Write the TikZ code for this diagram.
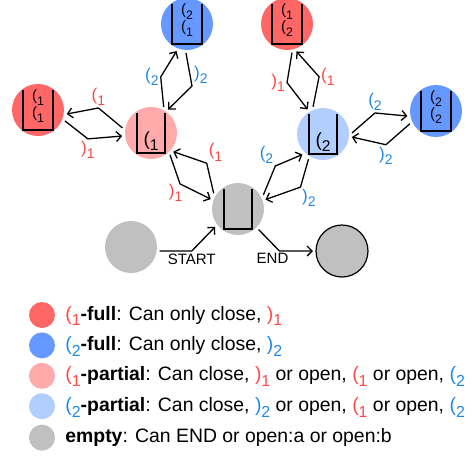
\documentclass[tikz,border=0pt]{standalone}
\usepackage{fontspec}
\setmainfont{Liberation Sans}
\usetikzlibrary{arrows.meta, positioning}
\definecolor{fullred}{RGB}{255,102,102}
\definecolor{fullblue}{RGB}{102,153,255}
\definecolor{partred}{RGB}{255,170,170}
\definecolor{partblue}{RGB}{178,206,255}
\definecolor{emptygray}{RGB}{192,192,192}
\definecolor{lred}{RGB}{255,72,72}
\definecolor{lblue}{RGB}{30,136,229}
% bracket with its subscript
\newcommand{\lsub}[1]{\raisebox{-0.3em}{\scalebox{0.82}{#1}}}
\newcommand{\opn}[1]{(\lsub{#1}}
\newcommand{\cls}[1]{)\lsub{#1}}
\newcommand{\oa}{\textcolor{lred}{\opn{1}}}
\newcommand{\ob}{\textcolor{lblue}{\opn{2}}}
\newcommand{\ca}{\textcolor{lred}{\cls{1}}}
\newcommand{\cb}{\textcolor{lblue}{\cls{2}}}
\tikzset{
    state/.style={circle, minimum size=52pt, inner sep=0pt, outer sep=3pt},
    legdot/.style={circle, minimum size=26pt, inner sep=0pt},
    legtxt/.style={anchor=base west, inner sep=0pt, font=\fontsize{19.4}{21}\selectfont},
    lbl/.style={font=\fontsize{17}{18}\selectfont, inner sep=1.5pt},
    word/.style={font=\fontsize{15}{16}\selectfont, inner sep=2pt},
    flow/.style={-{Straight Barb[length=5pt,width=10pt]}, line width=1.3pt},
    bucket/.pic={
        \draw[line width=1.4pt] (-14,-20) -- (-14,20) -- (14,20) -- (14,-20);
        \node (-txt) [anchor=south, inner sep=1pt, font=\fontsize{19}{20}\selectfont] at (0,19) {#1};
    },
    bucketfull/.pic={
        \draw[line width=1.4pt] (-15,-20) -- (-15,20) -- (15,20) -- (15,-20);
        \node (-txt) [inner sep=0pt, align=center, font=\fontsize{15}{17}\selectfont] at (0,-4) {#1};
    }
}
\begin{document}
\begin{tikzpicture}[x=1pt, y=-1pt]
    \useasboundingbox (0,0) rectangle (472,456);

    % states
    \node[state, fill=fullred] (rl) at (38,110) {};
    \node[state, fill=partred] (pk) at (151,133) {};
    \node[state, fill=fullblue] (bt) at (187,24) {};
    \node[state, fill=fullred] (rt) at (287,24) {};
    \node[state, fill=partblue] (lb) at (323,134) {};
    \node[state, fill=fullblue] (br) at (436,111) {};
    \node[state, fill=emptygray] (em) at (238,209) {};
    \node[state, fill=emptygray] (st) at (131,247) {};
    \node[state, fill=emptygray, draw, line width=1.2pt] (en) at (342,251) {};

    % stacks
    \pic (rlb) at (rl) {bucketfull={\opn{1}\\\opn{1}}};
    \pic (pkb) at (pk) {bucket={\opn{1}}};
    \pic (btb) at (bt) {bucketfull={\opn{2}\\\opn{1}}};
    \pic (rtb) at (rt) {bucketfull={\opn{1}\\\opn{2}}};
    \pic (lbb) at (lb) {bucket={\opn{2}}};
    \pic (brb) at (br) {bucketfull={\opn{2}\\\opn{2}}};
    \pic (emb) at (em) {bucket={}};

    % moves
    \draw[flow] (pk.170) -- ++(-24,-20) node[lbl, above] {\oa} -- (rl.-8);
    \draw[flow] (rl.-22) -- ++(23,18) node[lbl, below] {\ca} -- (pk.186);

    \draw[flow] (pk.64) -- ++(-3,-30) node[lbl, left] {\ob} -- (bt.-111);
    \draw[flow] (bt.-92) -- ++(6,33) node[lbl, above right] {\cb} -- (pk.54);

    \draw[flow] (pk.-49) -- ++(10,29) node[lbl, below left, inner sep=0pt, xshift=3pt] {\ca} -- (em.160);
    \draw[flow] (em.147) -- ++(-7,-30) node[lbl, above right] {\oa} -- (pk.-40);

    \draw[flow] (em.29) -- ++(12,-29) node[lbl, above left] {\ob} -- (lb.225);
    \draw[flow] (lb.240) -- ++(-8,28) node[lbl, below right, inner sep=1pt] {\cb} -- (em.19);

    \draw[flow] (rt.-80) -- ++(-5,30) node[lbl, left] {\ca} -- (lb.122);
    \draw[flow] (lb.110) -- ++(6,-30) node[lbl, right] {\oa} -- (rt.-71);

    \draw[flow] (lb.2) -- ++(23,-20) node[lbl, above] {\ob} -- (br.190);
    \draw[flow] (br.206) -- ++(-24,21) node[lbl, below] {\cb} -- (lb.-6);

    \draw[flow] (st.-8) -- ++(32,0) node[word, below] {START} -- (em.218);
    \draw[flow] (em.-45) -- ++(21,21.5) node[word, below, xshift=-7pt] {END} -- (en.180);

    % legend
    \node[legdot, fill=fullred] (lg1) at (42,315) {};
    \node[legdot, fill=fullblue, below=4pt of lg1] (lg2) {};
    \node[legdot, fill=partred, below=4pt of lg2] (lg3) {};
    \node[legdot, fill=partblue, below=4pt of lg3] (lg4) {};
    \node[legdot, fill=emptygray, below=5pt of lg4] (lg5) {};

    \node[legtxt] (tx1) at ([xshift=10pt, yshift=-5pt]lg1.east) {\oa\textbf{-full}: Can only close, \ca};
    \node[legtxt] (tx2) at ([xshift=10pt, yshift=-5pt]lg2.east) {\ob\textbf{-full}: Can only close, \cb};
    \node[legtxt] (tx3) at ([xshift=10pt, yshift=-5pt]lg3.east) {\oa\textbf{-partial}: Can close, \ca{} or open, \oa{} or open, \ob};
    \node[legtxt] (tx4) at ([xshift=10pt, yshift=-5pt]lg4.east) {\ob\textbf{-partial}: Can close, \cb{} or open, \oa{} or open, \ob};
    \node[legtxt] (tx5) at ([xshift=10pt, yshift=-5pt]lg5.east) {\textbf{empty}: Can END or open:a or open:b};
\end{tikzpicture}
\end{document}
